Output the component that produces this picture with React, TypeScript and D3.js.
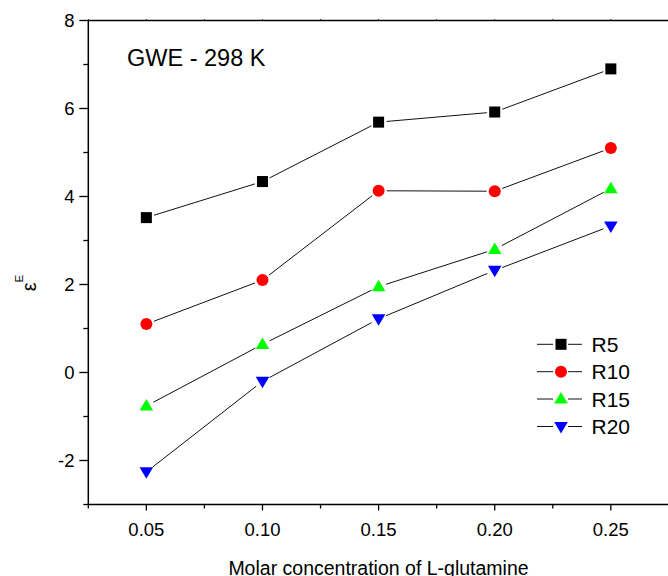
import React from "react";
import * as d3 from "d3";

// Molar concentration of L-glutamine (x values)
const concentrations = [0.05, 0.1, 0.15, 0.2, 0.25];

// Excess permittivity εE for each R series
const r5 = [3.52, 4.34, 5.69, 5.92, 6.9];
const r10 = [1.1, 2.1, 4.13, 4.12, 5.1];
const r15 = [-0.76, 0.64, 1.95, 2.8, 4.18];
const r20 = [-2.26, -0.2, 1.22, 2.32, 3.33];

const seriesNames = ["R5", "R10", "R15", "R20"];
const seriesValues = [r5, r10, r15, r20];
const seriesColors = ["#000000", "#ff0000", "#00ff00", "#0000ff"];
const seriesSymbols = ["square", "circle", "triangleUp", "triangleDown"];

const xMajorTicks = [0.05, 0.1, 0.15, 0.2, 0.25];
const xMinorTicks = [0.025, 0.075, 0.125, 0.175, 0.225, 0.275];
const yMajorTicks = [-2, 0, 2, 4, 6, 8];
const yMinorTicks = [-3, -1, 1, 3, 5, 7];

const W = 668;
const H = 576;
const left = 88.3;
const right = 668.9;
const top = 20.5;
const bottom = 504.5;

const x = d3.scaleLinear().domain([0.025, 0.275]).range([left, right]);
const y = d3.scaleLinear().domain([-3, 8]).range([bottom, top]);

const FONT = "Arial, 'Liberation Sans', Helvetica, sans-serif";

function Marker({ kind, cx, cy, color }: { kind: string; cx: number; cy: number; color: string }) {
  if (kind === "square") {
    return <rect x={cx - 5.5} y={cy - 5.5} width={11} height={11} fill={color} />;
  }
  if (kind === "circle") {
    return <circle cx={cx} cy={cy} r={6} fill={color} />;
  }
  const s = 6.8;
  const h = 11.5;
  if (kind === "triangleUp") {
    const pts = [[cx, cy - h * 0.6], [cx + s, cy + h * 0.4], [cx - s, cy + h * 0.4]];
    return <polygon points={pts.map((p) => p.join(",")).join(" ")} fill={color} />;
  }
  const pts = [[cx, cy + h * 0.6], [cx + s, cy - h * 0.4], [cx - s, cy - h * 0.4]];
  return <polygon points={pts.map((p) => p.join(",")).join(" ")} fill={color} />;
}

// Segments between consecutive points, trimmed so they stop short of the symbols
function gappedSegments(xs: number[], ys: number[], gap: number) {
  const segs: [number, number, number, number][] = [];
  for (let i = 0; i < xs.length - 1; i++) {
    const x1 = x(xs[i]);
    const y1 = y(ys[i]);
    const x2 = x(xs[i + 1]);
    const y2 = y(ys[i + 1]);
    const len = Math.hypot(x2 - x1, y2 - y1);
    const ux = (x2 - x1) / len;
    const uy = (y2 - y1) / len;
    segs.push([x1 + ux * gap, y1 + uy * gap, x2 - ux * gap, y2 - uy * gap]);
  }
  return segs;
}

export default function App() {
  const legendRows = [344.3, 371.7, 399, 426.5];
  return (
    <svg
      width={W}
      height={H}
      style={{ position: "absolute", left: 0, top: 0, background: "#fff" }}
      fontFamily={FONT}
    >
      <rect x={0} y={0} width={W} height={H} fill="#fff" />

      {/* frame */}
      <g stroke="#000" strokeWidth={1.5} fill="none">
        <line x1={left} y1={top} x2={right} y2={top} />
        <line x1={left} y1={bottom} x2={right} y2={bottom} />
        <line x1={left} y1={top} x2={left} y2={bottom} />
        <line x1={right} y1={top} x2={right} y2={bottom} />
      </g>

      {/* bottom axis ticks */}
      <g stroke="#000" strokeWidth={1.3}>
        {xMajorTicks.map((t) => (
          <line key={"xM" + t} x1={x(t)} x2={x(t)} y1={bottom} y2={bottom + 6} />
        ))}
        {xMinorTicks.map((t) => (
          <line key={"xm" + t} x1={x(t)} x2={x(t)} y1={bottom} y2={bottom + 4} />
        ))}
        {xMajorTicks.concat(xMinorTicks).map((t) => (
          <line key={"xt" + t} x1={x(t)} x2={x(t)} y1={top} y2={top - 1.5} strokeWidth={0.8} />
        ))}
      </g>
      <g fontSize={18.5} textAnchor="middle" fill="#000">
        {xMajorTicks.map((t) => (
          <text key={"xl" + t} x={x(t)} y={535.5}>
            {d3.format(".2f")(t)}
          </text>
        ))}
      </g>

      {/* left axis ticks */}
      <g stroke="#000" strokeWidth={1.3}>
        {yMajorTicks.map((t) => (
          <line key={"yM" + t} x1={left} x2={left - 9} y1={y(t)} y2={y(t)} />
        ))}
        {yMinorTicks.map((t) => (
          <line key={"ym" + t} x1={left} x2={left - 5} y1={y(t)} y2={y(t)} />
        ))}
      </g>
      <g fontSize={18.5} textAnchor="end" fill="#000">
        {yMajorTicks.map((t) => (
          <text key={"yl" + t} x={74.5} y={y(t) + 6.8}>
            {t}
          </text>
        ))}
      </g>

      {/* axis titles */}
      <text x={378.5} y={575} fontSize={19.5} textAnchor="middle" fill="#000">
        Molar concentration of L-glutamine
      </text>
      <g transform="translate(35.5,283) rotate(-90)">
        <text x={0} y={0} fontSize={20} textAnchor="middle" fill="#000">
          ε
          <tspan fontSize={11.5} dy={-13}>E</tspan>
        </text>
      </g>

      <text x={127} y={65.5} fontSize={23.5} fill="#000">
        GWE - 298 K
      </text>

      {/* series */}
      {seriesValues.map((vals, si) => (
        <g key={seriesNames[si]}>
          {gappedSegments(concentrations, vals, 8).map((s, i) => (
            <line key={i} x1={s[0]} y1={s[1]} x2={s[2]} y2={s[3]} stroke="#111" strokeWidth={1} />
          ))}
          {vals.map((v, i) => (
            <Marker
              key={i}
              kind={seriesSymbols[si]}
              cx={x(concentrations[i])}
              cy={y(v)}
              color={seriesColors[si]}
            />
          ))}
        </g>
      ))}

      {/* legend */}
      {seriesNames.map((name, si) => {
        const ry = legendRows[si];
        return (
          <g key={"lg" + name}>
            <line x1={537} x2={553} y1={ry} y2={ry} stroke="#111" strokeWidth={1} />
            <line x1={568} x2={582} y1={ry} y2={ry} stroke="#111" strokeWidth={1} />
            <Marker kind={seriesSymbols[si]} cx={561} cy={ry} color={seriesColors[si]} />
            <text x={591.5} y={ry + 7.5} fontSize={21} fill="#000">
              {name}
            </text>
          </g>
        );
      })}
    </svg>
  );
}
